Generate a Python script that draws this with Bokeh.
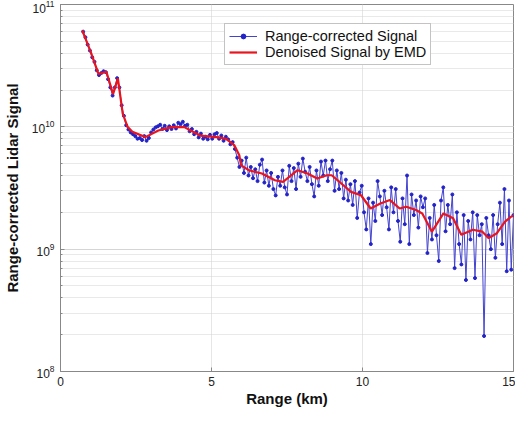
import numpy as np
from bokeh.plotting import figure
from bokeh.models import Legend, LegendItem, Range1d, FixedTicker
from bokeh.embed import file_html
from bokeh.resources import INLINE

# ---- data (signal in units of 1e9) ----
range_start_km = 0.75
range_step_km = 0.075

raw_signal_e9 = [
    60, 54, 47, 42, 37, 34, 29, 26.5, 27.5, 28.5, 28, 24.5, 21, 18, 21, 25, 21, 15, 12.3, 10.3, 9.5,
    9.0, 8.7, 8.4, 8.0, 8.1, 7.8, 8.4, 7.7, 8.1, 9.0, 9.5, 9.9, 10.1, 10.4, 9.6, 10.2, 9.4, 10.1,
    9.6, 10.3, 9.7, 10.8, 10.5, 11.0, 10.2, 10.4, 9.2, 9.6, 8.7, 9.1, 8.2, 8.8, 8.0, 8.3, 7.9, 8.6,
    8.0, 8.7, 8.9, 8.0, 8.5, 7.7, 8.3, 7.9, 7.2, 7.5, 6.6, 5.6,
    4.7, 5.3, 4.2, 5.6, 4.0, 4.7, 3.8, 4.5, 3.6, 4.9, 5.4, 3.5, 4.4, 3.3, 4.2, 3.1, 2.75, 3.9, 3.3,
    4.4, 3.2, 2.8, 4.8, 3.6, 4.6, 3.1, 5.0, 3.9, 5.5, 4.3, 3.6, 4.7, 3.4, 2.7, 4.4, 3.3, 5.2, 4.0,
    5.3, 3.6, 4.5, 5.3,
    3.0, 4.4, 3.1, 4.2, 2.6, 3.7, 2.5, 3.4, 2.3, 3.6, 1.8, 2.9, 3.3, 2.0, 1.45, 2.6, 1.1, 2.4, 1.7,
    3.6, 2.7, 1.9, 3.0, 2.2, 1.45, 3.2, 2.0, 3.1, 1.7, 1.15, 2.6, 1.6, 4.0, 1.1, 2.8, 1.9, 2.5, 1.5,
    2.7, 2.2,
    2.6, 0.93, 1.8, 1.2, 2.3, 1.3, 0.8, 2.5, 3.2, 1.4, 2.3, 1.6, 2.8, 0.7, 2.0, 1.1, 0.75, 1.9,
    0.56, 1.7, 1.2, 2.0, 0.58, 1.9, 1.3, 1.6, 0.195, 1.8, 1.3, 1.0, 1.9, 0.85, 1.6, 2.4, 1.1, 3.1,
    0.66, 2.5, 0.68, 1.9,
]

emd_range_km = [
    0.72, 1.00, 1.26, 1.52, 1.74, 1.90, 2.06, 2.22, 2.38, 2.81, 3.24, 3.67, 4.10, 4.31, 4.63,
    5.17, 5.49, 5.76, 5.92, 5.98, 6.24, 6.67, 7.10, 7.37, 7.85, 8.18, 8.50, 8.82, 8.98, 9.30,
    9.62, 9.95, 10.27, 10.59, 10.91, 11.23, 11.45, 11.77, 11.98, 12.30, 12.68, 13.00, 13.27,
    13.65, 13.97, 14.18, 14.45, 14.72, 14.93, 15.00,
]
emd_signal_e9 = [
    61.5, 41, 27.0, 28.2, 18.5, 24.9, 12.8, 10.0, 9.1, 8.24, 9.33, 9.95, 9.95, 9.33, 8.49,
    8.24, 7.98, 7.05, 5.85, 4.84, 4.42, 4.15, 3.66, 3.55, 4.42, 4.15, 3.78, 4.02, 4.02, 3.44,
    2.94, 2.76, 2.15, 2.36, 2.52, 2.15, 2.22, 2.09, 1.96, 1.39, 1.96, 1.79, 1.31,
    1.44, 1.39, 1.23, 1.35, 1.68, 1.85, 1.87,
]

x_ticks = [0, 5, 10, 15]
legend_labels = ["Range-corrected Signal", "Denoised Signal by EMD"]
x_title = "Range (km)"
y_title = "Range-corrected Lidar Signal"

range_km = np.round(range_start_km + range_step_km * np.arange(len(raw_signal_e9)), 3)
raw_signal = np.array(raw_signal_e9) * 1e9
emd_signal = np.array(emd_signal_e9) * 1e9

FONT = "Liberation Sans"

p = figure(
    width=515, height=409,
    y_axis_type="log",
    x_range=Range1d(0, 15), y_range=Range1d(1e8, 1e11),
    output_backend="svg", toolbar_location=None,
    min_border_left=53, min_border_right=2, min_border_top=4, min_border_bottom=30,
)
p.background_fill_color = "white"
p.border_fill_color = "white"
p.outline_line_color = "#888888"
p.outline_line_width = 1

# grid
p.xgrid.ticker = FixedTicker(ticks=[5, 10])
p.xgrid.grid_line_color = "#cccccc"
p.xgrid.grid_line_dash = "1 1"
p.ygrid.grid_line_color = "#cccccc"
p.ygrid.grid_line_dash = "1 1"
p.ygrid.minor_grid_line_color = "#d2d2d2"
p.ygrid.minor_grid_line_dash = "1 1"

# axes
p.xaxis.ticker = FixedTicker(ticks=x_ticks)
for ax in (p.xaxis[0], p.yaxis[0]):
    ax.axis_line_color = "#888888"
    ax.major_tick_line_color = "#888888"
    ax.minor_tick_line_color = "#888888"
    ax.major_tick_in = 4
    ax.major_tick_out = 0
    ax.minor_tick_in = 2
    ax.minor_tick_out = 0
    ax.major_label_text_font = FONT
    ax.major_label_text_font_size = "12px"
    ax.major_label_text_color = "#222222"
    ax.axis_label_text_font = FONT
    ax.axis_label_text_font_size = "15px"
    ax.axis_label_text_font_style = "bold"
    ax.axis_label_text_color = "#111111"
p.xaxis.minor_tick_line_color = None
p.xaxis.major_label_standoff = 5
p.xaxis.axis_label_standoff = 1
p.yaxis.major_label_standoff = 6
p.yaxis.axis_label_standoff = 8
p.xaxis.axis_label = x_title
p.yaxis.axis_label = y_title

# data
raw_line = p.line(range_km, raw_signal, line_color="#4343d0", line_width=1)
raw_pts = p.scatter(range_km, raw_signal, size=3, fill_color="#2323c8", line_color="#2323c8")
emd_line = p.line(emd_range_km, emd_signal, line_color="#e8141e", line_width=2.2)

legend = Legend(
    items=[LegendItem(label=legend_labels[0], renderers=[raw_line, raw_pts]),
           LegendItem(label=legend_labels[1], renderers=[emd_line])],
    location=(164, 306),
    label_text_font=FONT, label_text_font_size="14.5px", label_text_color="#111111",
    label_height=12, glyph_height=12, glyph_width=28, label_standoff=8, spacing=0,
    padding=4, margin=0,
    border_line_color="#888888", border_line_width=1,
    background_fill_color="white", background_fill_alpha=1,
)
p.add_layout(legend, "center")

open("out.html", "w").write(file_html(p, INLINE))
